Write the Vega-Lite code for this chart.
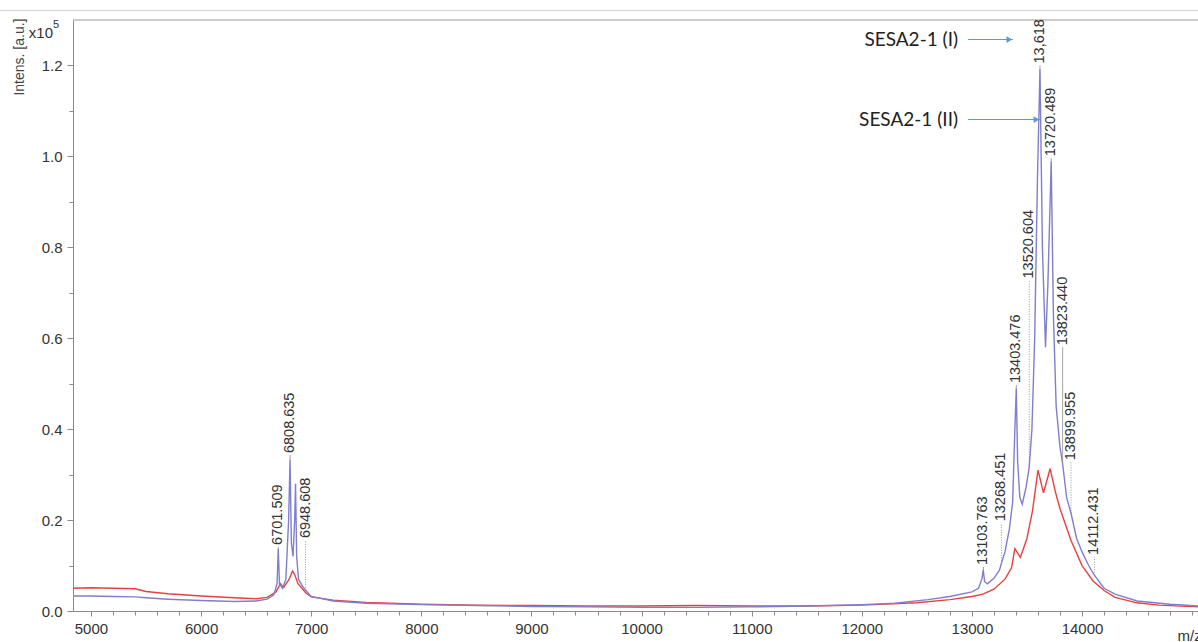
{
  "$schema": "https://vega.github.io/schema/vega-lite/v6.json",
  "width": 1125,
  "height": 591,
  "autosize": {"type": "none"},
  "padding": {"left": 73, "top": 20, "right": 0, "bottom": 31},
  "background": "white",
  "config": {"view": {"stroke": null}, "font": "Liberation Sans"},
  "data": {"values": [{"one": 1}]},
  "datasets": {
    "spectra": [
      {"s": "red", "mz": 4837, "v": 0.05}, {"s": "red", "mz": 5000, "v": 0.051}, {"s": "red", "mz": 5200, "v": 0.05}, {"s": "red", "mz": 5400, "v": 0.049},
      {"s": "red", "mz": 5500, "v": 0.043}, {"s": "red", "mz": 5700, "v": 0.038}, {"s": "red", "mz": 6000, "v": 0.033}, {"s": "red", "mz": 6300, "v": 0.029},
      {"s": "red", "mz": 6500, "v": 0.027}, {"s": "red", "mz": 6600, "v": 0.03}, {"s": "red", "mz": 6680, "v": 0.042}, {"s": "red", "mz": 6720, "v": 0.06},
      {"s": "red", "mz": 6750, "v": 0.052}, {"s": "red", "mz": 6800, "v": 0.07}, {"s": "red", "mz": 6830, "v": 0.088}, {"s": "red", "mz": 6850, "v": 0.08},
      {"s": "red", "mz": 6880, "v": 0.06}, {"s": "red", "mz": 6950, "v": 0.04}, {"s": "red", "mz": 7000, "v": 0.031}, {"s": "red", "mz": 7200, "v": 0.024},
      {"s": "red", "mz": 7500, "v": 0.019}, {"s": "red", "mz": 8000, "v": 0.015}, {"s": "red", "mz": 8500, "v": 0.013}, {"s": "red", "mz": 9000, "v": 0.012},
      {"s": "red", "mz": 9500, "v": 0.011}, {"s": "red", "mz": 10000, "v": 0.011}, {"s": "red", "mz": 10500, "v": 0.012}, {"s": "red", "mz": 11000, "v": 0.011},
      {"s": "red", "mz": 11500, "v": 0.011}, {"s": "red", "mz": 12000, "v": 0.013}, {"s": "red", "mz": 12500, "v": 0.018}, {"s": "red", "mz": 12800, "v": 0.025},
      {"s": "red", "mz": 13000, "v": 0.032}, {"s": "red", "mz": 13100, "v": 0.037}, {"s": "red", "mz": 13200, "v": 0.048}, {"s": "red", "mz": 13300, "v": 0.07},
      {"s": "red", "mz": 13360, "v": 0.095}, {"s": "red", "mz": 13390, "v": 0.137}, {"s": "red", "mz": 13440, "v": 0.118}, {"s": "red", "mz": 13500, "v": 0.16},
      {"s": "red", "mz": 13550, "v": 0.22}, {"s": "red", "mz": 13600, "v": 0.31}, {"s": "red", "mz": 13650, "v": 0.26}, {"s": "red", "mz": 13710, "v": 0.313},
      {"s": "red", "mz": 13760, "v": 0.26}, {"s": "red", "mz": 13800, "v": 0.225}, {"s": "red", "mz": 13900, "v": 0.155}, {"s": "red", "mz": 14000, "v": 0.1},
      {"s": "red", "mz": 14100, "v": 0.066}, {"s": "red", "mz": 14200, "v": 0.045}, {"s": "red", "mz": 14300, "v": 0.03}, {"s": "red", "mz": 14500, "v": 0.018},
      {"s": "red", "mz": 14700, "v": 0.013}, {"s": "red", "mz": 15053, "v": 0.009},
      {"s": "blue", "mz": 4837, "v": 0.033}, {"s": "blue", "mz": 5000, "v": 0.033}, {"s": "blue", "mz": 5200, "v": 0.032}, {"s": "blue", "mz": 5400, "v": 0.031},
      {"s": "blue", "mz": 5500, "v": 0.029}, {"s": "blue", "mz": 5700, "v": 0.026}, {"s": "blue", "mz": 6000, "v": 0.023}, {"s": "blue", "mz": 6300, "v": 0.021},
      {"s": "blue", "mz": 6500, "v": 0.022}, {"s": "blue", "mz": 6600, "v": 0.026}, {"s": "blue", "mz": 6660, "v": 0.035}, {"s": "blue", "mz": 6690, "v": 0.06},
      {"s": "blue", "mz": 6701, "v": 0.137}, {"s": "blue", "mz": 6712, "v": 0.06}, {"s": "blue", "mz": 6740, "v": 0.05}, {"s": "blue", "mz": 6770, "v": 0.07},
      {"s": "blue", "mz": 6795, "v": 0.2}, {"s": "blue", "mz": 6808, "v": 0.332}, {"s": "blue", "mz": 6820, "v": 0.15}, {"s": "blue", "mz": 6835, "v": 0.12},
      {"s": "blue", "mz": 6850, "v": 0.2}, {"s": "blue", "mz": 6858, "v": 0.28}, {"s": "blue", "mz": 6868, "v": 0.12}, {"s": "blue", "mz": 6885, "v": 0.07},
      {"s": "blue", "mz": 6920, "v": 0.055}, {"s": "blue", "mz": 6948, "v": 0.046}, {"s": "blue", "mz": 6970, "v": 0.04}, {"s": "blue", "mz": 7000, "v": 0.032},
      {"s": "blue", "mz": 7200, "v": 0.022}, {"s": "blue", "mz": 7500, "v": 0.017}, {"s": "blue", "mz": 8000, "v": 0.014}, {"s": "blue", "mz": 8500, "v": 0.012},
      {"s": "blue", "mz": 9000, "v": 0.01}, {"s": "blue", "mz": 9500, "v": 0.009}, {"s": "blue", "mz": 10000, "v": 0.008}, {"s": "blue", "mz": 10500, "v": 0.008},
      {"s": "blue", "mz": 11000, "v": 0.009}, {"s": "blue", "mz": 11500, "v": 0.011}, {"s": "blue", "mz": 12000, "v": 0.014}, {"s": "blue", "mz": 12300, "v": 0.017},
      {"s": "blue", "mz": 12600, "v": 0.025}, {"s": "blue", "mz": 12800, "v": 0.032}, {"s": "blue", "mz": 13000, "v": 0.042}, {"s": "blue", "mz": 13060, "v": 0.05},
      {"s": "blue", "mz": 13090, "v": 0.07}, {"s": "blue", "mz": 13103, "v": 0.09}, {"s": "blue", "mz": 13115, "v": 0.065}, {"s": "blue", "mz": 13140, "v": 0.06},
      {"s": "blue", "mz": 13200, "v": 0.072}, {"s": "blue", "mz": 13250, "v": 0.09}, {"s": "blue", "mz": 13268, "v": 0.105}, {"s": "blue", "mz": 13300, "v": 0.13},
      {"s": "blue", "mz": 13340, "v": 0.18}, {"s": "blue", "mz": 13370, "v": 0.24}, {"s": "blue", "mz": 13390, "v": 0.4}, {"s": "blue", "mz": 13403, "v": 0.49},
      {"s": "blue", "mz": 13415, "v": 0.33}, {"s": "blue", "mz": 13435, "v": 0.25}, {"s": "blue", "mz": 13457, "v": 0.235}, {"s": "blue", "mz": 13490, "v": 0.27},
      {"s": "blue", "mz": 13520, "v": 0.316}, {"s": "blue", "mz": 13545, "v": 0.4}, {"s": "blue", "mz": 13570, "v": 0.6}, {"s": "blue", "mz": 13595, "v": 0.95},
      {"s": "blue", "mz": 13618, "v": 1.193}, {"s": "blue", "mz": 13640, "v": 0.8}, {"s": "blue", "mz": 13668, "v": 0.58}, {"s": "blue", "mz": 13690, "v": 0.72},
      {"s": "blue", "mz": 13720, "v": 0.989}, {"s": "blue", "mz": 13740, "v": 0.65}, {"s": "blue", "mz": 13765, "v": 0.45}, {"s": "blue", "mz": 13800, "v": 0.36},
      {"s": "blue", "mz": 13823, "v": 0.325}, {"s": "blue", "mz": 13860, "v": 0.25}, {"s": "blue", "mz": 13900, "v": 0.215}, {"s": "blue", "mz": 13950, "v": 0.16},
      {"s": "blue", "mz": 14000, "v": 0.13}, {"s": "blue", "mz": 14060, "v": 0.1}, {"s": "blue", "mz": 14112, "v": 0.079}, {"s": "blue", "mz": 14200, "v": 0.05},
      {"s": "blue", "mz": 14300, "v": 0.037}, {"s": "blue", "mz": 14500, "v": 0.022}, {"s": "blue", "mz": 14800, "v": 0.015}, {"s": "blue", "mz": 15053, "v": 0.011}
    ],
    "peaks": [
      {"mz": 6701.509, "peak": 0.137, "lab": 0.141, "text": "6701.509", "dotted": false},
      {"mz": 6808.635, "peak": 0.332, "lab": 0.343, "text": "6808.635", "dotted": false},
      {"mz": 6948.608, "peak": 0.046, "lab": 0.156, "text": "6948.608", "dotted": true},
      {"mz": 13103.763, "peak": 0.09, "lab": 0.097, "text": "13103.763", "dotted": false},
      {"mz": 13268.451, "peak": 0.105, "lab": 0.193, "text": "13268.451", "dotted": true},
      {"mz": 13403.476, "peak": 0.49, "lab": 0.497, "text": "13403.476", "dotted": false},
      {"mz": 13520.604, "peak": 0.316, "lab": 0.727, "text": "13520.604", "dotted": true},
      {"mz": 13618, "peak": 1.193, "lab": 1.2, "text": "13,618", "dotted": false},
      {"mz": 13720.489, "peak": 0.989, "lab": 0.996, "text": "13720.489", "dotted": false},
      {"mz": 13823.44, "peak": 0.325, "lab": 0.58, "text": "13823.440", "dotted": false},
      {"mz": 13899.955, "peak": 0.215, "lab": 0.327, "text": "13899.955", "dotted": true},
      {"mz": 14112.431, "peak": 0.079, "lab": 0.119, "text": "14112.431", "dotted": true}
    ],
    "arrows": [
      {"name": "SESA2-1 (I)", "x0": 12965, "x1": 13373, "head": 13340, "textx": 12874, "y": 1.257},
      {"name": "SESA2-1 (II)", "x0": 12965, "x1": 13619, "head": 13586, "textx": 12874, "y": 1.081}
    ]
  },
  "resolve": {"axis": {"x": "independent", "y": "independent"}},
  "layer": [
    {
      "data": {"name": "spectra"},
      "mark": {"type": "line", "strokeWidth": 1.4, "interpolate": "linear"},
      "encoding": {
        "x": {
          "field": "mz", "type": "quantitative",
          "scale": {"domain": [4837, 15053], "nice": false, "zero": false},
          "axis": {
            "orient": "bottom",
            "title": "m/z",
            "values": [5000,6000,7000,8000,9000,10000,11000,12000,13000,14000],
            "format": "d",
            "grid": false,
            "domainColor": "#8a8a8a",
            "tickColor": "#8a8a8a",
            "tickSize": 5,
            "labelPadding": 5,
            "labelFontSize": 15,
            "labelColor": "#333333",
            "labelFlush": false,
            "labelOverlap": false,
            "titleFontSize": 15,
            "titleFontWeight": "normal",
            "titleColor": "#333333",
            "titleX": 1104,
            "titleY": 24,
            "titleAlign": "left",
            "titleBaseline": "middle"
          }
        },
        "y": {
          "field": "v", "type": "quantitative",
          "scale": {"domain": [0, 1.3], "nice": false, "zero": false},
          "axis": {
            "orient": "left",
            "title": "Intens. [a.u.]",
            "values": [0, 0.2, 0.4, 0.6, 0.8, 1.0, 1.2],
            "format": ".1f",
            "grid": false,
            "domainColor": "#8a8a8a",
            "tickColor": "#8a8a8a",
            "tickSize": 6,
            "labelPadding": 5,
            "labelFontSize": 15,
            "labelColor": "#333333",
            "labelFlush": false,
            "labelOverlap": false,
            "titleFontSize": 14,
            "titleFontWeight": "normal",
            "titleColor": "#444444",
            "titleAngle": 270,
            "titleAlign": "right",
            "titleBaseline": "middle",
            "titleX": -54,
            "titleY": -2
          }
        },
        "detail": {"field": "s"},
        "color": {"field": "s", "type": "nominal", "scale": {"domain": ["red", "blue"], "range": ["#e8403f", "#7f7fcc"]}, "legend": null}
      }
    },
    {
      "mark": {"type": "rule", "color": "#999999", "strokeWidth": 1.2},
      "encoding": {
        "x": {
          "datum": 4837, "type": "quantitative",
          "axis": {
            "orient": "bottom",
            "title": null,
            "values": [5000,5200,5400,5600,5800,6000,6200,6400,6600,6800,7000,7200,7400,7600,7800,8000,8200,8400,8600,8800,9000,9200,9400,9600,9800,10000,10200,10400,10600,10800,11000,11200,11400,11600,11800,12000,12200,12400,12600,12800,13000,13200,13400,13600,13800,14000,14200,14400,14600,14800,15000],
            "labels": false,
            "grid": false,
            "domain": false,
            "tickColor": "#8a8a8a",
            "tickSize": 4
          }
        },
        "x2": {"datum": 15053},
        "y": {
          "datum": 1.3, "type": "quantitative",
          "axis": {
            "orient": "left",
            "title": null,
            "values": [0.1, 0.3, 0.5, 0.7, 0.9, 1.1],
            "labels": false,
            "grid": false,
            "domain": false,
            "tickColor": "#8a8a8a",
            "tickSize": 4
          }
        }
      }
    },
    {
      "mark": {"type": "rule", "color": "#d0d0d0", "strokeWidth": 1, "clip": false},
      "encoding": {
        "x": {"datum": 4170, "type": "quantitative", "axis": null},
        "x2": {"datum": 15100},
        "y": {"datum": 1.321, "type": "quantitative", "axis": null}
      }
    },
    {
      "data": {"name": "peaks"},
      "mark": {"type": "rule", "color": "#8c8c8c", "strokeWidth": 0.9},
      "encoding": {
        "x": {"field": "mz", "type": "quantitative", "axis": null},
        "y": {"field": "peak", "type": "quantitative", "axis": null},
        "y2": {"field": "lab"},
        "strokeDash": {"condition": {"test": "datum.dotted", "value": [1, 1.5]}, "value": [1, 0]}
      }
    },
    {
      "data": {"name": "peaks"},
      "mark": {"type": "text", "angle": 270, "align": "left", "baseline": "middle", "fontSize": 14.5, "color": "#333333", "dx": 2, "font": "Liberation Sans"},
      "encoding": {
        "x": {"field": "mz", "type": "quantitative", "axis": null},
        "y": {"field": "lab", "type": "quantitative", "axis": null},
        "text": {"field": "text"}
      }
    },
    {
      "data": {"name": "arrows"},
      "mark": {"type": "rule", "color": "#5b9bd5", "strokeWidth": 1.1},
      "encoding": {
        "x": {"field": "x0", "type": "quantitative", "axis": null},
        "x2": {"field": "x1"},
        "y": {"field": "y", "type": "quantitative", "axis": null}
      }
    },
    {
      "data": {"name": "arrows"},
      "mark": {"type": "point", "shape": "triangle-right", "filled": true, "color": "#5b9bd5", "size": 45, "opacity": 1},
      "encoding": {
        "x": {"field": "head", "type": "quantitative", "axis": null},
        "y": {"field": "y", "type": "quantitative", "axis": null}
      }
    },
    {
      "data": {"name": "arrows"},
      "mark": {"type": "text", "align": "right", "baseline": "middle", "font": "Lato", "fontSize": 19, "color": "#222222"},
      "encoding": {
        "x": {"field": "textx", "type": "quantitative", "axis": null},
        "y": {"field": "y", "type": "quantitative", "axis": null},
        "text": {"field": "name"}
      }
    },
    {
      "mark": {"type": "text", "align": "right", "baseline": "middle", "fontSize": 15, "color": "#333333", "dx": -20, "text": "x10"},
      "encoding": {
        "x": {"datum": 4837, "type": "quantitative", "axis": null},
        "y": {"datum": 1.2725, "type": "quantitative", "axis": null}
      }
    },
    {
      "mark": {"type": "text", "align": "left", "baseline": "middle", "fontSize": 11, "color": "#333333", "dx": -20, "text": "5"},
      "encoding": {
        "x": {"datum": 4837, "type": "quantitative", "axis": null},
        "y": {"datum": 1.288, "type": "quantitative", "axis": null}
      }
    }
  ]
}
